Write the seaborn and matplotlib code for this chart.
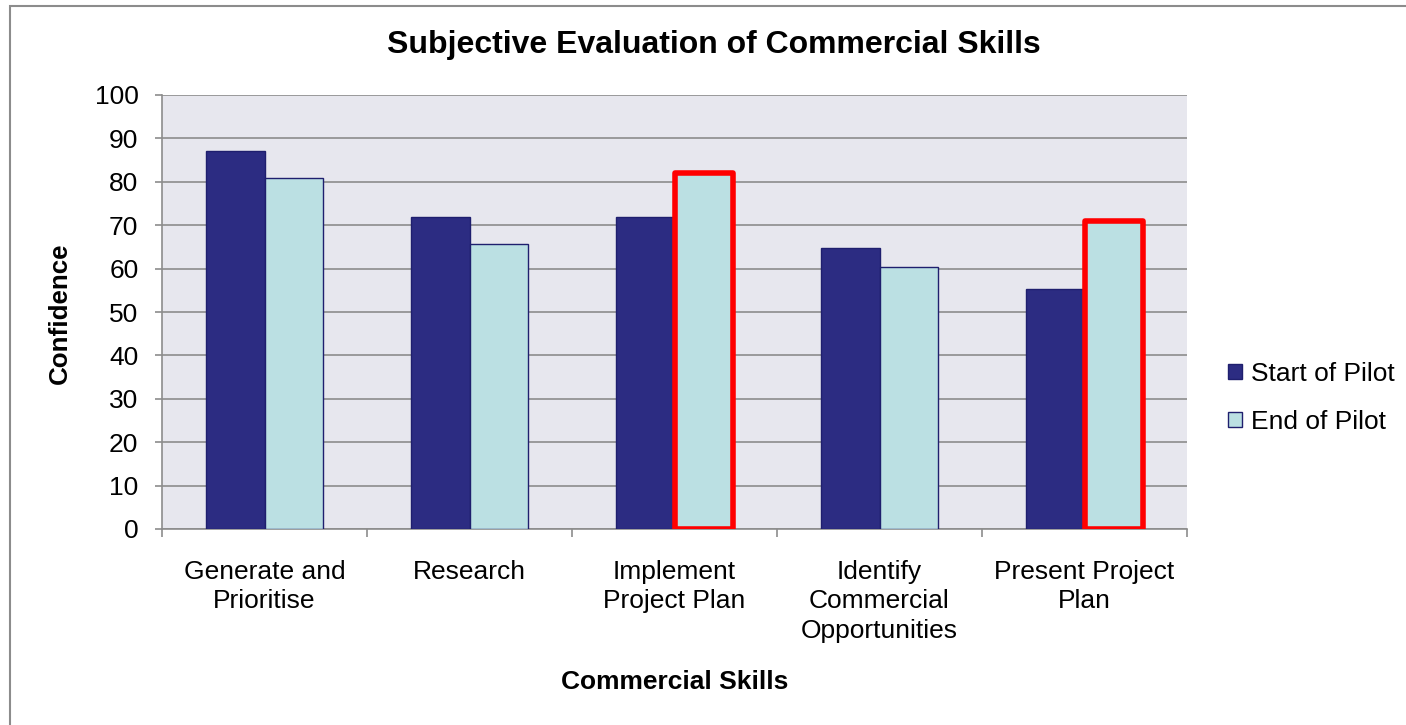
import matplotlib
matplotlib.use("Agg")
import matplotlib.pyplot as plt
from matplotlib.patches import Rectangle, Patch
import seaborn as sns
import pandas as pd

categories = ["Generate and\nPrioritise", "Research", "Implement\nProject Plan",
              "Identify\nCommercial\nOpportunities", "Present Project\nPlan"]
series_names = ["Start of Pilot", "End of Pilot"]
start_values = [87.2, 72.0, 72.0, 64.8, 55.4]
end_values = [80.8, 65.7, 82.1, 60.3, 71.0]
highlighted = [("End of Pilot", "Implement\nProject Plan"),
               ("End of Pilot", "Present Project\nPlan")]
y_ticks = list(range(0, 101, 10))

colors = {"Start of Pilot": "#2c2c82", "End of Pilot": "#bbe0e3"}

df = pd.DataFrame({
    "Skill": categories * 2,
    "Series": [series_names[0]] * len(categories) + [series_names[1]] * len(categories),
    "Value": start_values + end_values,
})

sns.set_theme(style="white")
plt.rcParams["font.family"] = ["Liberation Sans", "DejaVu Sans"]
plt.rcParams["text.color"] = "black"
plt.rcParams["axes.labelcolor"] = "black"
plt.rcParams["xtick.color"] = "black"
plt.rcParams["ytick.color"] = "black"

fig = plt.figure(figsize=(14.06, 7.25), dpi=100)
ax = fig.add_axes([162 / 1406, 1 - 529 / 725, (1187 - 162) / 1406, (529 - 95) / 725])
ax.set_facecolor("#e7e7ee")

sns.barplot(data=df, x="Skill", y="Value", hue="Series", order=categories,
            hue_order=series_names, palette=colors, saturation=1, width=0.57, gap=0,
            edgecolor="#1f1f6e", linewidth=1.0, ax=ax, legend=False, zorder=3)

# highlight bars with red outline
for container, sname in zip(ax.containers, series_names):
    for patch, cat in zip(container.patches, categories):
        if (sname, cat) in highlighted:
            patch.set_edgecolor("#ff0000")
            patch.set_linewidth(4.0)
            patch.set_joinstyle("round")
            patch.set_zorder(5)

ax.set_ylim(0, 100)
ax.set_xlim(-0.5, len(categories) - 0.5)
ax.set_yticks(y_ticks)
ax.yaxis.grid(True, color="#8c8c8c", linewidth=1.2, zorder=0)
ax.set_axisbelow(True)

for s in ["top", "right"]:
    ax.spines[s].set_visible(False)
for s in ["left", "bottom"]:
    ax.spines[s].set_color("#8c8c8c")
    ax.spines[s].set_linewidth(1.2)

ax.tick_params(axis="y", which="major", direction="out", length=5, width=1.2,
               color="#8c8c8c", labelsize=19, pad=12, left=True, labelcolor="black")
ax.set_xticks(range(len(categories)))
ax.set_xticklabels(categories, fontsize=19, linespacing=1.3, va="top")
ax.set_xticks([i - 0.5 for i in range(len(categories) + 1)], minor=True)
ax.tick_params(axis="x", which="major", length=0, pad=22, labelcolor="black")
ax.tick_params(axis="x", which="minor", direction="out", length=6, width=1.2,
               color="#8c8c8c", bottom=True)

ax.set_xlabel("")
ax.set_ylabel("")
fig.text(60 / 1406, 1 - 313 / 725, "Confidence", rotation=90, fontsize=18.7,
         fontweight="bold", ha="center", va="center", color="black")
fig.text(675 / 1406, 1 - 682 / 725, "Commercial Skills", fontsize=19,
         fontweight="bold", ha="center", va="center", color="black")
fig.text(714 / 1406, 1 - 45 / 725, "Subjective Evaluation of Commercial Skills",
         fontsize=23, fontweight="bold", ha="center", va="center", color="black")

handles = [Patch(facecolor=colors[n], edgecolor="#1f1f6e", linewidth=1.0) for n in series_names]
fig.legend(handles, series_names, loc="center left",
           bbox_to_anchor=(1210 / 1406, 1 - 398 / 725), frameon=False, fontsize=19,
           handlelength=0.5, handleheight=0.5, handletextpad=0.35, labelspacing=0.9,
           labelcolor="black", borderpad=0.2)

fig.patches.append(Rectangle((9.5 / 1406, -0.1), 1.2, 1.1 - 5.5 / 725,
                             transform=fig.transFigure, fill=False,
                             edgecolor="#8c8c8c", linewidth=1.5, zorder=-1))

fig.savefig("out.png", dpi=100)
